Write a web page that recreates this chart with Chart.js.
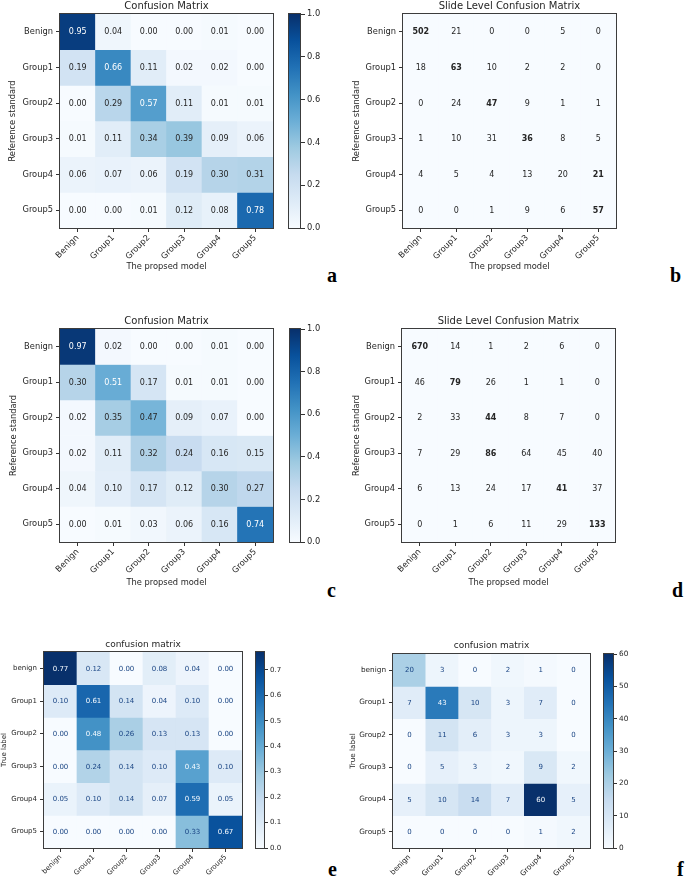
<!DOCTYPE html>
<html>
<head>
<meta charset="utf-8">
<script src="https://cdn.jsdelivr.net/npm/chart.js@4.4.1/dist/chart.umd.min.js"></script>
<style>
  body { margin: 0; background: #fff; }
  #fig { position: relative; width: 685px; height: 877px; overflow: hidden; }
  #fig canvas { position: absolute; }
  .tag { position: absolute; font: bold 20px "Liberation Serif", serif; line-height: 1; color: #000; }
</style>
</head>
<body>
<div id="fig">
  <canvas id="cmA"></canvas><canvas id="cbA"></canvas>
  <canvas id="cmB"></canvas>
  <canvas id="cmC"></canvas><canvas id="cbC"></canvas>
  <canvas id="cmD"></canvas>
  <canvas id="cmE"></canvas><canvas id="cbE"></canvas>
  <canvas id="cmF"></canvas><canvas id="cbF"></canvas>
  <div class="tag" style="left:327px;top:265px">a</div>
  <div class="tag" style="left:670px;top:265px">b</div>
  <div class="tag" style="left:327px;top:580px">c</div>
  <div class="tag" style="left:672px;top:580px">d</div>
  <div class="tag" style="left:328px;top:859px">e</div>
  <div class="tag" style="left:677px;top:859px">f</div>
</div>
<script>
// class names
const classes = ['Benign', 'Group1', 'Group2', 'Group3', 'Group4', 'Group5'];
const classesLower = ['benign', 'Group1', 'Group2', 'Group3', 'Group4', 'Group5'];

// a: normalised confusion matrix (rows = reference standard)
const normA = [
  [0.95, 0.04, 0.00, 0.00, 0.01, 0.00],
  [0.19, 0.66, 0.11, 0.02, 0.02, 0.00],
  [0.00, 0.29, 0.57, 0.11, 0.01, 0.01],
  [0.01, 0.11, 0.34, 0.39, 0.09, 0.06],
  [0.06, 0.07, 0.06, 0.19, 0.30, 0.31],
  [0.00, 0.00, 0.01, 0.12, 0.08, 0.78]
];
// b: slide level counts
const slideB = [
  [502, 21, 0, 0, 5, 0],
  [18, 63, 10, 2, 2, 0],
  [0, 24, 47, 9, 1, 1],
  [1, 10, 31, 36, 8, 5],
  [4, 5, 4, 13, 20, 21],
  [0, 0, 1, 9, 6, 57]
];
// c
const normC = [
  [0.97, 0.02, 0.00, 0.00, 0.01, 0.00],
  [0.30, 0.51, 0.17, 0.01, 0.01, 0.00],
  [0.02, 0.35, 0.47, 0.09, 0.07, 0.00],
  [0.02, 0.11, 0.32, 0.24, 0.16, 0.15],
  [0.04, 0.10, 0.17, 0.12, 0.30, 0.27],
  [0.00, 0.01, 0.03, 0.06, 0.16, 0.74]
];
// d
const slideD = [
  [670, 14, 1, 2, 6, 0],
  [46, 79, 26, 1, 1, 0],
  [2, 33, 44, 8, 7, 0],
  [7, 29, 86, 64, 45, 40],
  [6, 13, 24, 17, 41, 37],
  [0, 1, 6, 11, 29, 133]
];
// e
const normE = [
  [0.77, 0.12, 0.00, 0.08, 0.04, 0.00],
  [0.10, 0.61, 0.14, 0.04, 0.10, 0.00],
  [0.00, 0.48, 0.26, 0.13, 0.13, 0.00],
  [0.00, 0.24, 0.14, 0.10, 0.43, 0.10],
  [0.05, 0.10, 0.14, 0.07, 0.59, 0.05],
  [0.00, 0.00, 0.00, 0.00, 0.33, 0.67]
];
// f
const countF = [
  [20, 3, 0, 2, 1, 0],
  [7, 43, 10, 3, 7, 0],
  [0, 11, 6, 3, 3, 0],
  [0, 5, 3, 2, 9, 2],
  [5, 10, 14, 7, 60, 5],
  [0, 0, 0, 0, 1, 2]
];

// colorbar ticks
const cbTicksUnit = [0, 0.2, 0.4, 0.6, 0.8, 1.0];
const cbTicksE = [0, 0.1, 0.2, 0.3, 0.4, 0.5, 0.6, 0.7];
const cbTicksF = [0, 10, 20, 30, 40, 50, 60];

Chart.defaults.font.family = '"DejaVu Sans", sans-serif';
Chart.defaults.color = '#262626';
Chart.defaults.animation = false;

// matplotlib "Blues"
const bluesStops = ['#f7fbff', '#deebf7', '#c6dbef', '#9ecae1', '#6baed6', '#4292c6', '#2171b5', '#08519c', '#08306b'];
function hex2rgb(h) { return [1, 3, 5].map(k => parseInt(h.substr(k, 2), 16)); }
function blues(t) {
  t = Math.max(0, Math.min(1, t));
  const p = t * (bluesStops.length - 1);
  const i = Math.min(Math.floor(p), bluesStops.length - 2);
  const f = p - i;
  const a = hex2rgb(bluesStops[i]), b = hex2rgb(bluesStops[i + 1]);
  const c = a.map((v, k) => Math.round(v + (b[k] - v) * f));
  return `rgb(${c[0]},${c[1]},${c[2]})`;
}

function place(el, c) {
  el.width = c.w; el.height = c.h;
  el.style.left = c.x + 'px'; el.style.top = c.y + 'px';
}

function matrixChart(id, s) {
  const el = document.getElementById(id);
  place(el, s.canvas);
  const c = s.canvas, box = s.box;
  const n = s.values.length;

  const datasets = s.values.map((row, i) => ({
    data: row.map(() => [i, i + 1]),
    backgroundColor: row.map(v => s.flat ? blues(0) : blues(v / s.vmax)),
    borderWidth: 0,
    barPercentage: 1,
    categoryPercentage: 1,
    grouped: false
  }));

  const titleLH = s.titleSize * 1.2;
  const titlePadTop = s.titleY - titleLH / 2 - c.y;
  const titlePadBottom = box.t - c.y - titlePadTop - titleLH;

  const cellText = {
    id: 'cellText',
    afterDatasetsDraw(chart) {
      const ctx = chart.ctx;
      ctx.save();
      ctx.textAlign = 'center';
      ctx.textBaseline = 'middle';
      chart.data.datasets.forEach((ds, i) => {
        const rowMax = Math.max(...s.values[i]);
        chart.getDatasetMeta(i).data.forEach((bar, j) => {
          const v = s.values[i][j];
          const bold = s.boldMax && v === rowMax;
          ctx.font = (bold ? 'bold ' : '') + s.cellSize + 'px "DejaVu Sans"';
          ctx.fillStyle = s.textColor(v);
          ctx.fillText(s.fmt(v), bar.x, (bar.y + bar.base) / 2 + 0.5);
        });
      });
      const a = chart.chartArea;
      ctx.strokeStyle = '#3c3c3c';
      ctx.lineWidth = 1;
      ctx.strokeRect(Math.round(a.left) - 0.5, Math.round(a.top) - 0.5,
        Math.round(a.right - a.left) + 1, Math.round(a.bottom - a.top) + 1);
      ctx.restore();
    }
  };

  return new Chart(el, {
    type: 'bar',
    data: { labels: s.cols, datasets },
    options: {
      responsive: false,
      devicePixelRatio: 1,
      layout: { padding: { left: 0, top: 0, right: c.x + c.w - box.r, bottom: 0 } },
      plugins: {
        legend: { display: false },
        tooltip: { enabled: false },
        title: {
          display: true, text: s.title, color: '#262626', fullSize: false,
          font: { size: s.titleSize, weight: 'normal' },
          padding: { top: titlePadTop, bottom: titlePadBottom }
        }
      },
      scales: {
        x: {
          type: 'category', offset: true,
          grid: { offset: false, drawOnChartArea: false, tickLength: s.tickLen, color: '#333' },
          border: { display: false },
          ticks: { autoSkip: false, minRotation: 45, maxRotation: 45, padding: 1,
            font: { size: s.tickSize }, color: '#262626' },
          title: {
            display: !!s.xTitle, text: s.xTitle, color: '#262626',
            font: { size: s.tickSize, lineHeight: 1 },
            padding: { top: 0, bottom: s.xTitleY ? (c.y + c.h - s.xTitleY) - s.tickSize / 2 : 0 }
          },
          afterFit: sc => { sc.height = c.y + c.h - box.b; }
        },
        y: {
          type: 'linear', min: 0, max: n, reverse: true,
          afterBuildTicks: sc => { sc.ticks = s.rows.map((r, i) => ({ value: i + 0.5 })); },
          grid: { drawOnChartArea: false, tickLength: s.tickLen, color: '#333' },
          border: { display: false },
          ticks: { callback: (v, i) => s.rows[i], padding: 3, font: { size: s.tickSize }, color: '#262626' },
          title: {
            display: true, text: s.yTitle, color: '#262626',
            font: { size: s.tickSize, lineHeight: 1 },
            padding: { top: s.yTitleX - c.x - s.tickSize / 2, bottom: 0 }
          },
          afterFit: sc => { sc.width = box.l - c.x; }
        }
      }
    },
    plugins: [cellText]
  });
}

function colorBar(id, s) {
  const el = document.getElementById(id);
  const box = s.box;
  const c = { x: box.l, y: box.t - 8, w: box.r - box.l + 30, h: box.b - box.t + 16 };
  place(el, c);
  const gradientFill = {
    id: 'gradientFill',
    beforeDatasetsDraw(chart) {
      const ctx = chart.ctx, a = chart.chartArea, y = chart.scales.y;
      const g = ctx.createLinearGradient(0, y.getPixelForValue(0), 0, y.getPixelForValue(s.vmax));
      bluesStops.forEach((col, k) => g.addColorStop(k / (bluesStops.length - 1), col));
      ctx.save();
      ctx.fillStyle = g;
      ctx.fillRect(a.left, a.top, a.right - a.left, a.bottom - a.top);
      ctx.strokeStyle = '#3c3c3c';
      ctx.lineWidth = 1;
      ctx.strokeRect(Math.round(a.left) + 0.5, Math.round(a.top) - 0.5,
        Math.round(a.right - a.left) - 1, Math.round(a.bottom - a.top) + 1);
      ctx.restore();
    }
  };
  return new Chart(el, {
    type: 'bar',
    data: { labels: [''], datasets: [] },
    options: {
      responsive: false,
      devicePixelRatio: 1,
      layout: { padding: { top: 8, bottom: 8, left: 0, right: 0 } },
      plugins: { legend: { display: false }, tooltip: { enabled: false } },
      scales: {
        x: { display: false },
        y: {
          position: 'right', min: 0, max: s.vmax,
          afterBuildTicks: sc => { sc.ticks = s.ticks.map(v => ({ value: v })); },
          grid: { drawOnChartArea: false, tickLength: s.tickLen, color: '#333' },
          border: { display: false },
          ticks: { callback: v => s.fmt(v), padding: 2, font: { size: s.size }, color: '#262626' },
          afterFit: sc => { sc.width = 30; }
        }
      }
    },
    plugins: [gradientFill]
  });
}

const two = v => v.toFixed(2);
const int = v => String(v);
const darkOrLight = (vals) => {
  const mx = Math.max(...vals.flat());
  return v => v > mx / 2 ? '#ffffff' : '#262626';
};
const skText = (vals) => {
  const flat = vals.flat();
  const th = (Math.max(...flat) + Math.min(...flat)) / 2;
  return v => v > th ? '#f7fbff' : '#1a4584';
};

const topStyle = { titleSize: 10, tickSize: 8.3, cellSize: 8, tickLen: 4,
  xTitle: 'The propsed model', yTitle: 'Reference standard', rows: classes, cols: classes };

matrixChart('cmA', Object.assign({}, topStyle, {
  title: 'Confusion Matrix', values: normA, vmax: 1, fmt: two, textColor: darkOrLight(normA),
  canvas: { x: 0, y: 0, w: 280, h: 280 }, box: { l: 60, t: 14, r: 273, b: 228 },
  titleY: 6, xTitleY: 267, yTitleX: 13
}));
colorBar('cbA', { box: { l: 288, t: 14, r: 301, b: 228 }, vmax: 1, ticks: cbTicksUnit,
  fmt: v => v.toFixed(1), size: 8.3, tickLen: 4 });

matrixChart('cmB', Object.assign({}, topStyle, {
  title: 'Slide Level Confusion Matrix', values: slideB, vmax: 1, flat: true, boldMax: true,
  fmt: int, textColor: () => '#262626',
  canvas: { x: 340, y: 0, w: 282, h: 280 }, box: { l: 403, t: 14, r: 616, b: 228 },
  titleY: 6, xTitleY: 267, yTitleX: 357
}));

matrixChart('cmC', Object.assign({}, topStyle, {
  title: 'Confusion Matrix', values: normC, vmax: 1, fmt: two, textColor: darkOrLight(normC),
  canvas: { x: 0, y: 300, w: 280, h: 290 }, box: { l: 60, t: 329, r: 273, b: 542 },
  titleY: 321, xTitleY: 583, yTitleX: 14
}));
colorBar('cbC', { box: { l: 289, t: 329, r: 301, b: 542 }, vmax: 1, ticks: cbTicksUnit,
  fmt: v => v.toFixed(1), size: 8.3, tickLen: 4 });

matrixChart('cmD', Object.assign({}, topStyle, {
  title: 'Slide Level Confusion Matrix', values: slideD, vmax: 1, flat: true, boldMax: true,
  fmt: int, textColor: () => '#262626',
  canvas: { x: 340, y: 300, w: 282, h: 290 }, box: { l: 402, t: 329, r: 615, b: 542 },
  titleY: 321, xTitleY: 583, yTitleX: 357
}));

matrixChart('cmE', {
  title: 'confusion matrix', titleSize: 9, tickSize: 7, cellSize: 7, tickLen: 4,
  yTitle: 'True label', rows: classesLower, cols: classesLower,
  values: normE, vmax: 0.77, fmt: two, textColor: skText(normE),
  canvas: { x: 0, y: 620, w: 250, h: 257 }, box: { l: 44, t: 652, r: 242, b: 848 },
  titleY: 645, yTitleX: 4
});
colorBar('cbE', { box: { l: 255, t: 652, r: 265, b: 848 }, vmax: 0.77, ticks: cbTicksE,
  fmt: v => v.toFixed(1), size: 7, tickLen: 3 });

matrixChart('cmF', {
  title: 'confusion matrix', titleSize: 9, tickSize: 7.3, cellSize: 7, tickLen: 4,
  yTitle: 'True label', rows: classesLower, cols: classesLower,
  values: countF, vmax: 60, fmt: int, textColor: skText(countF),
  canvas: { x: 340, y: 620, w: 256, h: 257 }, box: { l: 393, t: 654, r: 590, b: 848 },
  titleY: 646, yTitleX: 353
});
colorBar('cbF', { box: { l: 603, t: 654, r: 614, b: 848 }, vmax: 60, ticks: cbTicksF,
  fmt: v => String(v), size: 7.3, tickLen: 3 });
</script>
</body>
</html>
